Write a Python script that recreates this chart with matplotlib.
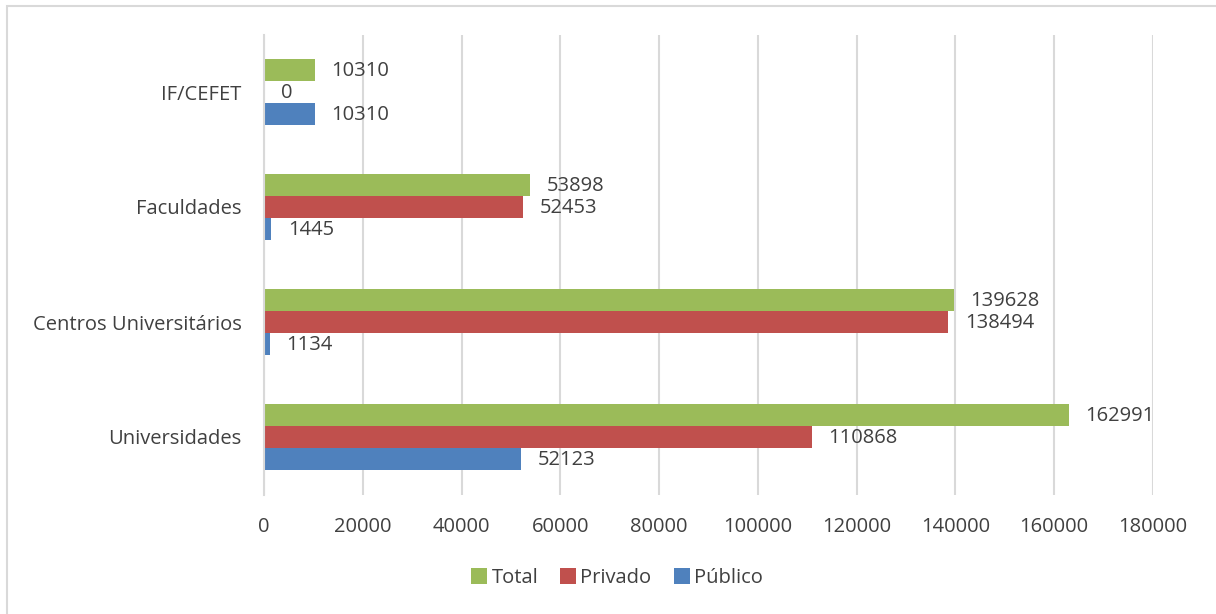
import matplotlib
matplotlib.use("Agg")
import matplotlib.pyplot as plt
from matplotlib.patches import Rectangle
import numpy as np

plt.rcParams['font.family'] = ['Open Sans', 'DejaVu Sans']

categorias = ['Universidades', 'Centros Universitários', 'Faculdades', 'IF/CEFET']
publico = [52123, 1134, 1445, 10310]
privado = [110868, 138494, 52453, 0]
total = [162991, 139628, 53898, 10310]
xticks = [0, 20000, 40000, 60000, 80000, 100000, 120000, 140000, 160000, 180000]

cor_total = '#9BBB59'
cor_priv = '#C0504D'
cor_pub = '#4F81BD'
cor_txt = '#404040'
fs = 14.5

fig = plt.figure(figsize=(12.16, 6.14), dpi=100)
# moldura cinza (so topo e esquerda aparecem no recorte)
fig.patches.append(Rectangle((7/1216, -0.05), 1.1, 1.05 - 5.5/614, transform=fig.transFigure,
                             fill=False, edgecolor='#D9D9D9', lw=1.5))
ax = fig.add_axes([264/1216, 1 - 494.5/614, (1153 - 264)/1216, (494.5 - 34.5)/614])

y = np.arange(len(categorias))
h = 0.19
d = 0.192
series = [(total, d, cor_total, 'Total'), (privado, 0, cor_priv, 'Privado'), (publico, -d, cor_pub, 'Público')]
for vals, off, cor, nome in series:
    ax.barh(y + off, vals, height=h, color=cor, label=nome, zorder=3)
    for yi, v in zip(y + off, vals):
        ax.annotate(str(v), (v, yi), xytext=(12, -1), textcoords='offset points',
                    ha='left', va='center', fontsize=fs, color=cor_txt)

ax.set_xlim(0, 180000)
ax.set_ylim(-0.5, 3.5)
ax.set_xticks(xticks)
ax.set_xticklabels([str(t) for t in xticks])
ax.set_yticks(y)
ax.set_yticklabels(categorias)
ax.tick_params(axis='both', length=0, labelsize=fs, colors=cor_txt)
ax.tick_params(axis='x', pad=16)
ax.tick_params(axis='y', pad=16)
ax.grid(axis='x', color='#D9D9D9', lw=1.5, zorder=0)
for s in ['top', 'right', 'bottom']:
    ax.spines[s].set_visible(False)
ax.spines['left'].set_color('#D9D9D9')
ax.spines['left'].set_linewidth(1.5)
ax.spines['left'].set_zorder(4)

leg = fig.legend(loc='center', bbox_to_anchor=(617/1216, 1 - 578/614), ncol=3, frameon=False,
                 fontsize=fs, handlelength=0.8, handleheight=0.8, handletextpad=0.2,
                 columnspacing=1.1)
for t in leg.get_texts():
    t.set_color(cor_txt)

fig.savefig('out.png', dpi=100)
